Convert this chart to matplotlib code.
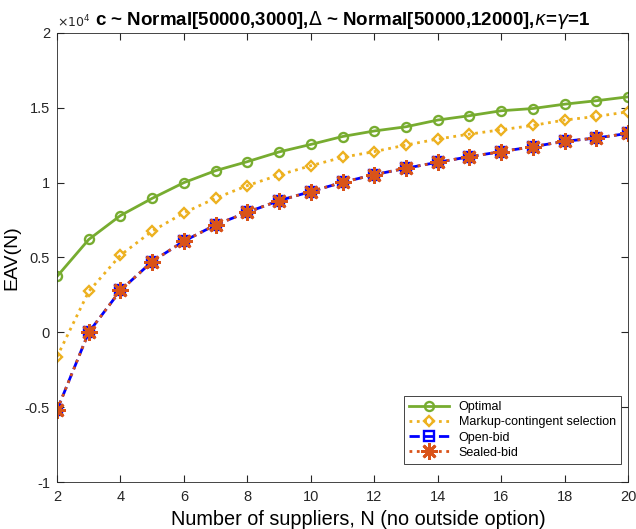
import numpy as np
import matplotlib
matplotlib.use("Agg")
import matplotlib.pyplot as plt
from matplotlib.ticker import FuncFormatter

plt.rcParams['font.family'] = ['Liberation Sans', 'DejaVu Sans']

# data (EAV in units of 1)
N = np.arange(2, 21)
optimal = np.array([3730, 6200, 7800, 8950, 10000, 10800, 11400, 12050, 12550,
                    13080, 13450, 13730, 14180, 14470, 14800, 14950, 15240, 15470, 15730])
markup = np.array([-1640, 2730, 5150, 6760, 7980, 8960, 9800, 10510, 11130,
                   11690, 12070, 12510, 12910, 13240, 13530, 13820, 14180, 14420, 14730])
open_bid = np.array([-5200, 0, 2800, 4730, 6090, 7180, 8020, 8800, 9400,
                     10020, 10530, 10960, 11360, 11730, 12070, 12400, 12760, 12980, 13290])
sealed_bid = open_bid.copy()

labels = ['Optimal', 'Markup-contingent selection', 'Open-bid', 'Sealed-bid']

fig = plt.figure(figsize=(6.36, 5.29), dpi=100)
ax = fig.add_axes([0.0896, 0.0888, 0.898, 0.849])

ax.plot(N, optimal, '-', color='#77AC30', lw=2, marker='o', ms=6.5,
        mfc='none', mew=1.7, label=labels[0])
ax.plot(N, markup, ':', color='#EDB120', lw=2, marker='D', ms=5.5,
        mfc='none', mew=1.7, label=labels[1])
ax.plot(N, open_bid, '--', color='#0000FF', lw=2, marker='s', ms=6.5,
        mfc='none', mew=1.7, label=labels[2])
ax.plot(N, sealed_bid, ':', color='#D95319', lw=2, marker=(8, 2, 0), ms=12,
        mew=2, label=labels[3])

ax.set_xlim(2, 20)
ax.set_ylim(-10000, 20000)
ax.set_xticks(np.arange(2, 21, 2))
ax.set_yticks(np.arange(-10000, 20001, 5000))
ax.yaxis.set_major_formatter(FuncFormatter(lambda v, p: '%g' % (v / 1e4)))
ax.tick_params(direction='in', top=True, right=True, labelsize=10.5,
               colors='#262626', length=5, pad=6)
ax.tick_params(axis='y', pad=5)
for s in ax.spines.values():
    s.set_color('#262626')
    s.set_linewidth(0.6)

ax.text(0.0, 1.005, r'$\times10^4$', transform=ax.transAxes, fontsize=9,
        color='#262626', ha='left', va='bottom')

ax.set_xlabel('Number of suppliers, N (no outside option)', fontsize=14.3)
ax.xaxis.set_label_coords(0.527, -0.062, transform=ax.transAxes)
ax.xaxis.label.set_va('top')
ax.set_ylabel('EAV(N)', fontsize=14)
ax.yaxis.set_label_coords(-0.064, 0.5, transform=ax.transAxes)
ax.set_title(r'c ~ Normal[50000,3000],$\Delta$ ~ Normal[50000,12000],$\kappa$=$\gamma$=1',
             fontsize=13.5, fontweight='bold', pad=6)

leg = ax.legend(loc='lower right', bbox_to_anchor=(0.998, 0.027), fontsize=9,
                fancybox=False, edgecolor='#262626', framealpha=1,
                handlelength=3.2, borderpad=0.4, labelspacing=0.25)
leg.get_frame().set_linewidth(0.6)

fig.savefig('out.png', dpi=100)
